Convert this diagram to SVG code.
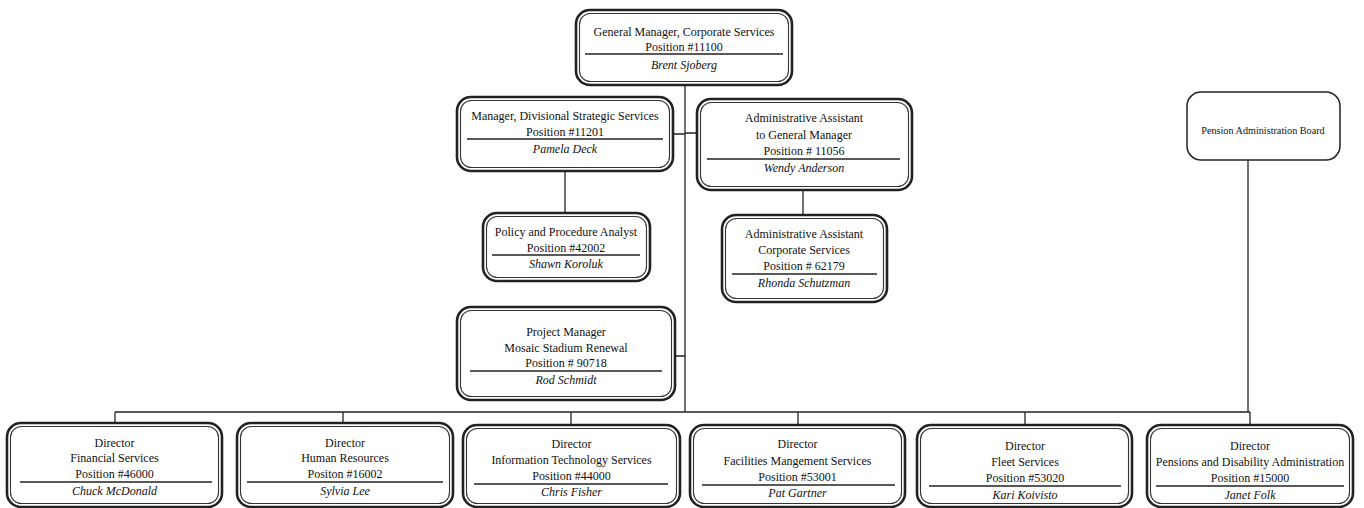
<svg xmlns="http://www.w3.org/2000/svg" width="1364" height="508" viewBox="0 0 1364 508">
<style>
.o{fill:#fff;stroke:#222;stroke-width:2.6}
.i{fill:none;stroke:#333;stroke-width:1.1}
.s{stroke:#222;stroke-width:1.5}
.c{stroke:#222;stroke-width:1.3;fill:none}
text{font-family:"Liberation Serif","Times New Roman",serif;font-size:12px;fill:#111;text-anchor:middle}
.n{font-style:italic}
</style>
<rect width="1364" height="508" fill="#fff"/>
<g id="connectors">
<path class="c" d="M685 85V412M673 134H685M685 133H697M565 171V213M803 190V215M675 356H685M115 412H1250M115 412V423M343 412V423M571 412V425M798 412V425M1025 412V425M1248 160V412M1250 412V425"/>
</g>
<g id="gm">
<rect class="o" x="576" y="10" width="216" height="75" rx="14"/>
<rect class="i" x="579.5" y="13.5" width="209" height="68" rx="11"/>
<text x="684" y="36">General Manager, Corporate Services</text>
<text x="684" y="51">Position #11100</text>
<line class="s" x1="585" y1="54" x2="783" y2="54"/>
<text class="n" x="684" y="69">Brent Sjoberg</text>
</g>
<g id="mdss">
<rect class="o" x="457" y="97" width="216" height="74" rx="14"/>
<rect class="i" x="460.5" y="100.5" width="209" height="67" rx="11"/>
<text x="565" y="120">Manager, Divisional Strategic Services</text>
<text x="565" y="136">Position #11201</text>
<line class="s" x1="467" y1="139" x2="663" y2="139"/>
<text class="n" x="565" y="153">Pamela Deck</text>
</g>
<g id="aagm">
<rect class="o" x="697" y="99" width="215" height="91" rx="14"/>
<rect class="i" x="700.5" y="102.5" width="208" height="84" rx="11"/>
<text x="804" y="122">Administrative Assistant</text>
<text x="804" y="139">to General Manager</text>
<text x="804" y="155">Position # 11056</text>
<line class="s" x1="707" y1="159" x2="900" y2="159"/>
<text class="n" x="804" y="172">Wendy Anderson</text>
</g>
<g id="pab">
<rect x="1187" y="92" width="153" height="68" rx="14" fill="#fff" stroke="#222" stroke-width="1.5"/>
<text x="1263" y="134" style="font-size:10.2px">Pension Administration Board</text>
</g>
<g id="ppa">
<rect class="o" x="483" y="213" width="167" height="68" rx="14"/>
<rect class="i" x="486.5" y="216.5" width="160" height="61" rx="11"/>
<text x="566" y="236">Policy and Procedure Analyst</text>
<text x="566" y="252">Position #42002</text>
<line class="s" x1="492" y1="255" x2="640" y2="255"/>
<text class="n" x="566" y="268">Shawn Koroluk</text>
</g>
<g id="aacs">
<rect class="o" x="722" y="215" width="165" height="87" rx="14"/>
<rect class="i" x="725.5" y="218.5" width="158" height="80" rx="11"/>
<text x="804" y="238">Administrative Assistant</text>
<text x="804" y="254">Corporate Services</text>
<text x="804" y="270">Position # 62179</text>
<line class="s" x1="732" y1="274" x2="877" y2="274"/>
<text class="n" x="804" y="287">Rhonda Schutzman</text>
</g>
<g id="pm">
<rect class="o" x="457" y="307" width="218" height="93" rx="14"/>
<rect class="i" x="460.5" y="310.5" width="211" height="86" rx="11"/>
<text x="566" y="336">Project Manager</text>
<text x="566" y="352">Mosaic Stadium Renewal</text>
<text x="566" y="367">Position # 90718</text>
<line class="s" x1="470" y1="371" x2="662" y2="371"/>
<text class="n" x="566" y="384">Rod Schmidt</text>
</g>
<g id="dfs">
<rect class="o" x="7" y="423" width="215" height="84" rx="14"/>
<rect class="i" x="10.5" y="426.5" width="208" height="77" rx="11"/>
<text x="114.5" y="447">Director</text>
<text x="114.5" y="462">Financial Services</text>
<text x="114.5" y="478">Position #46000</text>
<line class="s" x1="20" y1="482" x2="212" y2="482"/>
<text class="n" x="114.5" y="495">Chuck McDonald</text>
</g>
<g id="dhr">
<rect class="o" x="237" y="423" width="216" height="84" rx="14"/>
<rect class="i" x="240.5" y="426.5" width="209" height="77" rx="11"/>
<text x="345" y="447">Director</text>
<text x="345" y="462">Human Resources</text>
<text x="345" y="478">Positon #16002</text>
<line class="s" x1="247" y1="482" x2="443" y2="482"/>
<text class="n" x="345" y="495">Sylvia Lee</text>
</g>
<g id="dits">
<rect class="o" x="463" y="425" width="217" height="82" rx="14"/>
<rect class="i" x="466.5" y="428.5" width="210" height="75" rx="11"/>
<text x="571.5" y="448">Director</text>
<text x="571.5" y="464">Information Technology Services</text>
<text x="571.5" y="480">Position #44000</text>
<line class="s" x1="474" y1="484" x2="668" y2="484"/>
<text class="n" x="571.5" y="496">Chris Fisher</text>
</g>
<g id="dfms">
<rect class="o" x="690" y="425" width="215" height="82" rx="14"/>
<rect class="i" x="693.5" y="428.5" width="208" height="75" rx="11"/>
<text x="797.5" y="448">Director</text>
<text x="797.5" y="465">Facilities Mangement Services</text>
<text x="797.5" y="481">Position #53001</text>
<line class="s" x1="702" y1="485" x2="895" y2="485"/>
<text class="n" x="797.5" y="497">Pat Gartner</text>
</g>
<g id="dfleet">
<rect class="o" x="917" y="425" width="215" height="82" rx="14"/>
<rect class="i" x="920.5" y="428.5" width="208" height="75" rx="11"/>
<text x="1025" y="450">Director</text>
<text x="1025" y="466">Fleet Services</text>
<text x="1025" y="482">Position #53020</text>
<line class="s" x1="929" y1="486" x2="1121" y2="486"/>
<text class="n" x="1025" y="499">Kari Koivisto</text>
</g>
<g id="dpda">
<rect class="o" x="1147" y="425" width="206" height="82" rx="14"/>
<rect class="i" x="1150.5" y="428.5" width="199" height="75" rx="11"/>
<text x="1250" y="450">Director</text>
<text x="1250" y="466">Pensions and Disability Administration</text>
<text x="1250" y="482">Position #15000</text>
<line class="s" x1="1156" y1="486" x2="1344" y2="486"/>
<text class="n" x="1250" y="499">Janet Folk</text>
</g>
</svg>
